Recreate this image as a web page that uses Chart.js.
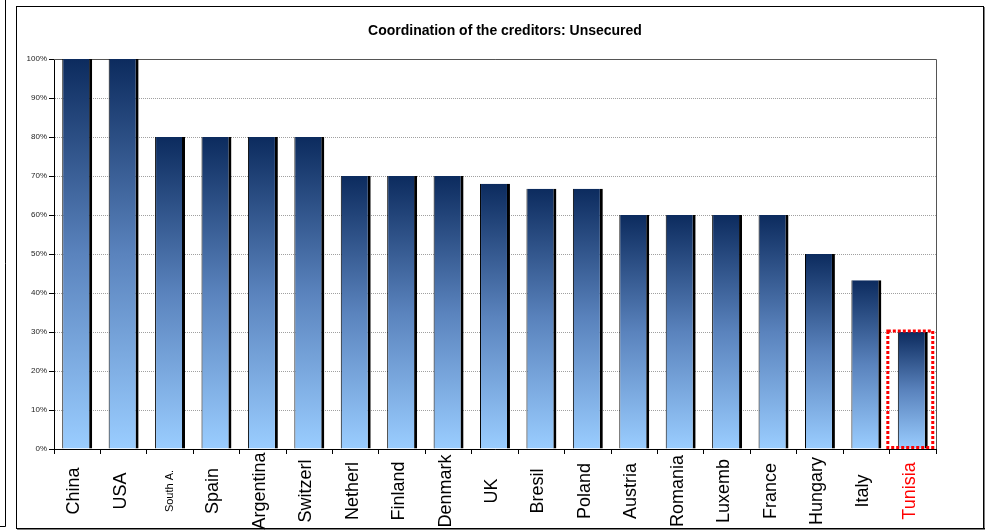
<!DOCTYPE html>
<html>
<head>
<meta charset="utf-8">
<script src="https://cdn.jsdelivr.net/npm/chart.js@4.4.0/dist/chart.umd.min.js"></script>
<style>
  html, body { margin: 0; padding: 0; background: #fff; overflow: hidden; }
  #wrap { position: relative; width: 991px; height: 531px; }
  canvas { display: block; }
</style>
</head>
<body>
<div id="wrap"><canvas id="myChart" width="991" height="531"></canvas></div>
<script>
const chartTitle = "Coordination of the creditors: Unsecured";
const countries = ["China", "USA", "South A.", "Spain", "Argentina", "Switzerl", "Netherl", "Finland", "Denmark", "UK",
  "Bresil", "Poland", "Austria", "Romania", "Luxemb", "France", "Hungary", "Italy", "Tunisia"];
const unsecured = [100, 100, 80, 80, 80, 80, 70, 70, 70, 68, 66.7, 66.7, 60, 60, 60, 60, 50, 43.3, 30];
const highlighted = "Tunisia";

// fond, cadre et titre
const framePlugin = {
  id: "frame",
  beforeDraw(chart) {
    const ctx = chart.ctx;
    ctx.save();
    ctx.fillStyle = "#fff";
    ctx.fillRect(0, 0, chart.width, chart.height);
    ctx.strokeStyle = "#000";
    ctx.lineWidth = 1;
    ctx.beginPath();
    ctx.moveTo(5.5, 0);
    ctx.lineTo(5.5, 526.5);
    ctx.lineTo(0, 526.5);
    ctx.stroke();
    ctx.strokeRect(16.5, 6.5, 967, 522);
    ctx.fillStyle = "#000";
    ctx.fillRect(17, 528, 968, 1.5);
    ctx.fillRect(983, 7, 1.5, 522);
    ctx.font = "bold 14px Arial, 'Liberation Sans', sans-serif";
    ctx.textAlign = "center";
    ctx.textBaseline = "middle";
    ctx.fillText(chartTitle, 505, 31);
    ctx.restore();
  },
  beforeDatasetsDraw(chart) {
    const a = chart.chartArea;
    const ctx = chart.ctx;
    ctx.save();
    ctx.strokeStyle = "#555";
    ctx.lineWidth = 1;
    ctx.beginPath();
    ctx.moveTo(a.left, a.top + 0.5);
    ctx.lineTo(a.right + 0.5, a.top + 0.5);
    ctx.lineTo(a.right + 0.5, a.bottom);
    ctx.stroke();
    ctx.restore();
  },
  afterDraw(chart) {
    const ctx = chart.ctx;
    const xs = chart.scales.x;
    // etiquettes verticales
    countries.forEach((name, i) => {
      const x = xs.getPixelForValue(i);
      const small = name === "South A.";
      ctx.save();
      ctx.translate(x + (small ? 3 : 2), 491);
      ctx.rotate(-Math.PI / 2);
      ctx.font = (small ? "11px" : "18px") + " Arial, 'Liberation Sans', sans-serif";
      ctx.fillStyle = name === highlighted ? "#ff0000" : "#000";
      ctx.textAlign = "center";
      ctx.textBaseline = "alphabetic";
      ctx.fillText(name, 0, 0);
      ctx.restore();
    });
    // cadre rouge autour de la Tunisie
    const bar = chart.getDatasetMeta(0).data[countries.indexOf(highlighted)];
    if (bar) {
      const left = bar.x - bar.width / 2 - 10;
      const right = bar.x + bar.width / 2 + 5;
      ctx.save();
      ctx.strokeStyle = "#ff0000";
      ctx.lineWidth = 3;
      ctx.setLineDash([3, 2]);
      ctx.strokeRect(left, bar.y - 1, right - left, bar.base - bar.y);
      ctx.restore();
    }
  }
};

const barGradient = (c) => {
  const chart = c.chart;
  if (!chart.chartArea || c.type !== "data") return "#5a83bd";
  const y = chart.scales.y;
  const top = y.getPixelForValue(c.raw);
  const bot = y.getPixelForValue(0);
  const g = chart.ctx.createLinearGradient(0, top, 0, bot);
  g.addColorStop(0, "#0c2b5e");
  g.addColorStop(0.5, "#5a83bd");
  g.addColorStop(1, "#9acdff");
  return g;
};

const config = {
  type: "bar",
  data: {
    labels: countries,
    datasets: [{
      data: unsecured,
      backgroundColor: barGradient,
      borderColor: "#000",
      borderWidth: { top: 0, left: 1, right: 3, bottom: 0 },
      borderSkipped: false,
      barPercentage: 0.645,
      categoryPercentage: 1
    }]
  },
  options: {
    responsive: false,
    animation: false,
    layout: { padding: { top: 59, left: 0, right: 55, bottom: 0 } },
    plugins: { legend: { display: false }, title: { display: false }, tooltip: { enabled: false } },
    scales: {
      x: {
        ticks: { display: false },
        grid: { drawOnChartArea: false, drawTicks: true, tickLength: 5, color: "#000", offset: true },
        border: { display: true, color: "#000", width: 1 },
        afterFit: (s) => { s.height = 82; }
      },
      y: {
        min: 0,
        max: 100,
        ticks: {
          stepSize: 10,
          padding: 2,
          color: "#222",
          font: { family: "Arial, 'Liberation Sans', sans-serif", size: 8 },
          callback: (v) => v + "%"
        },
        grid: { color: "#a0a0a0", tickColor: "#000", tickLength: 5, tickBorderDash: [] },
        border: { display: true, color: "#000", width: 1, dash: [1, 1] },
        afterFit: (s) => { s.width = 54; }
      }
    }
  },
  plugins: [framePlugin]
};

var myChart = new Chart(document.getElementById("myChart"), config);
</script>
</body>
</html>
